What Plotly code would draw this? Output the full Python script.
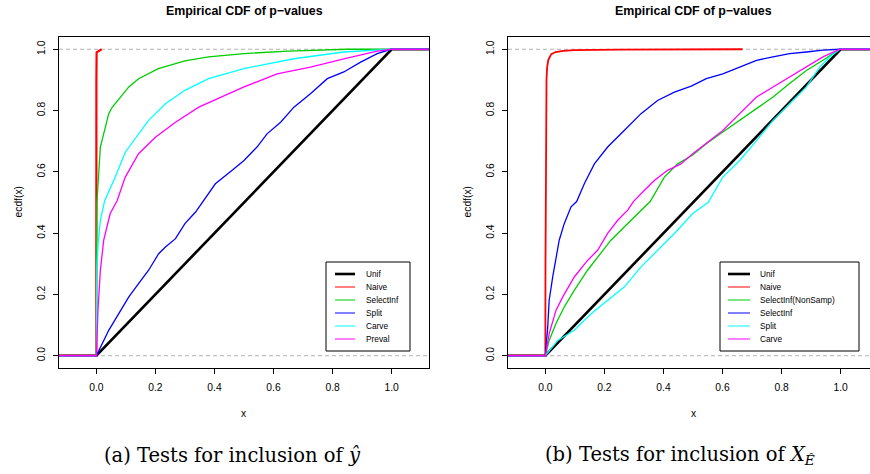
import plotly.graph_objects as go

W, H = 870, 474

# ---------------- data: panel (a) ----------------
a_unif_x = [0.0, 1.0]
a_unif_y = [0.0, 1.0]
a_naive_x = [0.0, 0.0002, 0.001, 0.018]
a_naive_y = [0.0, 0.9, 0.99, 1.0]
a_selinf_x = [0.0, 0.0005, 0.002, 0.0135, 0.042, 0.053, 0.11, 0.143, 0.21, 0.30, 0.38, 0.5, 0.65, 0.85]
a_selinf_y = [0.0, 0.3, 0.5, 0.68, 0.79, 0.81, 0.877, 0.904, 0.937, 0.962, 0.975, 0.986, 0.994, 1.0]
a_split_x = [0.0, 0.042, 0.076, 0.11, 0.143, 0.177, 0.211, 0.234, 0.268, 0.30, 0.336, 0.362, 0.403,
             0.46, 0.5, 0.544, 0.578, 0.624, 0.669, 0.725, 0.782, 0.838, 0.895, 0.951, 0.997]
a_split_y = [0.0, 0.083, 0.137, 0.192, 0.235, 0.279, 0.333, 0.355, 0.382, 0.431, 0.469, 0.505, 0.561,
             0.605, 0.637, 0.681, 0.724, 0.762, 0.811, 0.855, 0.904, 0.926, 0.958, 0.986, 1.0]
a_carve_x = [0.0, 0.001, 0.002, 0.006, 0.0136, 0.028, 0.064, 0.098, 0.143, 0.177, 0.234, 0.30, 0.38,
             0.5, 0.669, 0.838, 0.974, 1.0]
a_carve_y = [0.0, 0.2, 0.29, 0.366, 0.442, 0.505, 0.583, 0.664, 0.724, 0.768, 0.822, 0.866, 0.904,
             0.937, 0.969, 0.991, 0.999, 1.0]
a_preval_x = [0.0, 0.002, 0.0055, 0.0136, 0.025, 0.047, 0.07, 0.098, 0.143, 0.2, 0.268, 0.347, 0.426,
              0.5, 0.612, 0.725, 0.838, 0.951, 1.0]
a_preval_y = [0.0, 0.05, 0.148, 0.279, 0.377, 0.464, 0.505, 0.583, 0.659, 0.713, 0.762, 0.811, 0.844,
              0.877, 0.92, 0.942, 0.969, 0.994, 1.0]

# ---------------- data: panel (b) ----------------
b_unif_x = [0.0, 1.0]
b_unif_y = [0.0, 1.0]
b_naive_x = [0.0, 0.0005, 0.002, 0.004, 0.006, 0.01, 0.02, 0.035, 0.06, 0.1, 0.25, 0.668]
b_naive_y = [0.0, 0.3, 0.7, 0.9, 0.94, 0.965, 0.984, 0.991, 0.995, 0.997, 0.999, 1.0]
b_nonsamp_x = [0.0, 0.013, 0.036, 0.064, 0.098, 0.143, 0.177, 0.222, 0.267, 0.301, 0.355, 0.403, 0.448,
               0.499, 0.545, 0.601, 0.658, 0.715, 0.771, 0.827, 0.884, 0.94, 0.997]
b_nonsamp_y = [0.0, 0.05, 0.105, 0.159, 0.213, 0.279, 0.322, 0.377, 0.42, 0.453, 0.503, 0.583, 0.626,
               0.655, 0.692, 0.73, 0.768, 0.806, 0.844, 0.888, 0.931, 0.964, 1.0]
b_selinf_x = [0.0, 0.008, 0.013, 0.025, 0.036, 0.047, 0.064, 0.087, 0.106, 0.132, 0.166, 0.211, 0.267,
              0.324, 0.38, 0.437, 0.494, 0.545, 0.601, 0.658, 0.715, 0.771, 0.827, 0.884, 0.94, 0.997]
b_selinf_y = [0.0, 0.093, 0.181, 0.257, 0.322, 0.377, 0.431, 0.486, 0.503, 0.561, 0.626, 0.681, 0.735,
              0.79, 0.833, 0.86, 0.88, 0.904, 0.92, 0.942, 0.964, 0.975, 0.986, 0.991, 0.997, 1.0]
b_split_x = [0.0, 0.042, 0.098, 0.155, 0.211, 0.267, 0.324, 0.38, 0.437, 0.499, 0.551, 0.601, 0.658,
             0.715, 0.771, 0.827, 0.884, 0.929, 0.963, 0.997]
b_split_y = [0.0, 0.05, 0.083, 0.137, 0.181, 0.224, 0.29, 0.344, 0.399, 0.464, 0.50, 0.583, 0.637,
             0.702, 0.768, 0.822, 0.877, 0.942, 0.975, 1.0]
b_carve_x = [0.0, 0.013, 0.036, 0.059, 0.098, 0.143, 0.177, 0.211, 0.245, 0.279, 0.298, 0.335, 0.369,
             0.414, 0.459, 0.499, 0.545, 0.601, 0.658, 0.715, 0.771, 0.827, 0.884, 0.94, 0.997]
b_carve_y = [0.0, 0.072, 0.148, 0.192, 0.257, 0.311, 0.344, 0.399, 0.442, 0.475, 0.503, 0.539, 0.572,
             0.605, 0.626, 0.659, 0.692, 0.735, 0.79, 0.844, 0.877, 0.909, 0.942, 0.975, 1.0]

a_names = ["Unif", "Naive", "SelectInf", "Split", "Carve", "Preval"]
b_names = ["Unif", "Naive", "SelectInf(NonSamp)", "SelectInf", "Split", "Carve"]
colors = ["#000000", "#FF0000", "#00CD00", "#0000FF", "#00FFFF", "#FF00FF"]

tick_vals = [0.0, 0.2, 0.4, 0.6, 0.8, 1.0]
tick_text = ["0.0", "0.2", "0.4", "0.6", "0.8", "1.0"]

title_text = "Empirical CDF of p\u2212values"
cap_a = "(a) Tests for inclusion of <i>\u0177</i>"
cap_b = "(b) Tests for inclusion of <i>X</i><sub><i>\u00ca</i></sub>"

# ---------------- layout geometry (pixels) ----------------
AX_L, AX_R = 59, 429          # panel (a) plot box
BX_L, BX_R = 508, 870         # panel (b) plot box (clipped at image edge)
PY_T, PY_B = 37, 368
XMIN, XMAX = -0.1264, 1.1264
YMIN, YMAX = -0.04, 1.04
px_per_unit = (AX_R - AX_L) / (XMAX - XMIN)
BXMAX = XMIN + (BX_R - BX_L) / px_per_unit

FONT = "Liberation Sans"
SERIF = "DejaVu Serif"

def px(x):
    return x / W

def py(y):
    return 1 - y / H

fig = go.Figure()

a_series = [(a_unif_x, a_unif_y), (a_naive_x, a_naive_y), (a_selinf_x, a_selinf_y),
            (a_split_x, a_split_y), (a_carve_x, a_carve_y), (a_preval_x, a_preval_y)]
b_series = [(b_unif_x, b_unif_y), (b_naive_x, b_naive_y), (b_nonsamp_x, b_nonsamp_y),
            (b_selinf_x, b_selinf_y), (b_split_x, b_split_y), (b_carve_x, b_carve_y)]

def add_panel(series, names, xa, ya, red_w):
    for i, ((xs, ys), nm) in enumerate(zip(series, names)):
        X = [XMIN - 0.5] + list(xs)
        Y = [0.0] + list(ys)
        if nm != "Naive":
            X = X + [XMAX + 0.5]
            Y = Y + [1.0]
        w = 2.6 if nm == "Unif" else (red_w if nm == "Naive" else 1.3)
        fig.add_trace(go.Scatter(x=X, y=Y, mode="lines", name=nm, xaxis=xa, yaxis=ya,
                                 line=dict(color=colors[i], width=w), showlegend=False,
                                 hoverinfo="skip"))

add_panel(a_series, a_names, "x", "y", 2.2)
add_panel(b_series, b_names, "x2", "y2", 1.8)

axis_common = dict(showgrid=False, zeroline=False, showline=True, linecolor="#000000", linewidth=1,
                   ticks="outside", ticklen=5, tickcolor="#000000", tickwidth=1, automargin=False,
                   tickfont=dict(family=FONT, size=10.3, color="#000000"))

fig.update_layout(
    template="none",
    width=W, height=H, margin=dict(l=0, r=0, t=0, b=0, pad=0), autosize=False,
    paper_bgcolor="white", plot_bgcolor="white", showlegend=False,
    xaxis=dict(domain=[px(AX_L), px(AX_R)], range=[XMIN, XMAX], anchor="y", mirror=True,
               tickvals=tick_vals, ticktext=tick_text, ticklabelstandoff=5, **axis_common),
    yaxis=dict(domain=[py(PY_B), py(PY_T)], range=[YMIN, YMAX], anchor="x", mirror=True,
               tickvals=tick_vals, ticktext=tick_text, tickangle=-90, ticklabelstandoff=4, **axis_common),
    xaxis2=dict(domain=[px(BX_L), 1.0], range=[XMIN, BXMAX], anchor="y2", mirror=True,
                tickvals=tick_vals, ticktext=tick_text, ticklabelstandoff=5, **axis_common),
    yaxis2=dict(domain=[py(PY_B), py(PY_T)], range=[YMIN, YMAX], anchor="x2", mirror=False,
                tickvals=tick_vals, ticktext=tick_text, tickangle=-90, ticklabelstandoff=4, **axis_common),
)

shapes = []
annotations = []

# dashed reference lines at 0 and 1
for xr, yr in [("x domain", "y"), ("x2 domain", "y2")]:
    for yv in [0.0, 1.0]:
        shapes.append(dict(type="line", xref=xr, yref=yr, x0=0, x1=1, y0=yv, y1=yv, layer="below",
                           line=dict(color="#b3b3b3", width=1, dash="4px,3px")))

# titles, axis titles, captions
for cx in [(AX_L + AX_R) / 2, (BX_L + 879) / 2]:
    annotations.append(dict(text="<b>" + title_text + "</b>", x=px(cx), y=py(11), xref="paper", yref="paper",
                            showarrow=False, xanchor="center", yanchor="middle",
                            font=dict(family=FONT, size=12.4, color="#000000")))
    annotations.append(dict(text="x", x=px(cx), y=py(413), xref="paper", yref="paper", showarrow=False,
                            xanchor="center", yanchor="middle", font=dict(family=FONT, size=10.3, color="#000000")))
for lx in [AX_L - 41, BX_L - 41]:
    annotations.append(dict(text="ecdf(x)", x=px(lx), y=py((PY_T + PY_B) / 2), xref="paper", yref="paper",
                            showarrow=False, textangle=-90, xanchor="center", yanchor="middle",
                            font=dict(family=FONT, size=10.3, color="#000000")))
annotations.append(dict(text=cap_a, x=px(232), y=py(455), xref="paper", yref="paper", showarrow=False,
                        xanchor="center", yanchor="middle",
                        font=dict(family=SERIF, size=19.5, color="#000000")))
annotations.append(dict(text=cap_b, x=px(680), y=py(455), xref="paper", yref="paper", showarrow=False,
                        xanchor="center", yanchor="middle",
                        font=dict(family=SERIF, size=19.5, color="#000000")))

# legends (boxes drawn like R's legend())
def add_legend(names, box, line_x, text_x):
    x0, y0, x1, y1 = box
    shapes.append(dict(type="rect", xref="paper", yref="paper", x0=px(x0), x1=px(x1), y0=py(y1), y1=py(y0),
                       line=dict(color="#000000", width=1), fillcolor="white", layer="above"))
    row0, step = 274, 13
    for i, nm in enumerate(names):
        ry = row0 + i * step
        shapes.append(dict(type="line", xref="paper", yref="paper", x0=px(line_x[0]), x1=px(line_x[1]),
                           y0=py(ry), y1=py(ry), layer="above",
                           line=dict(color=colors[i], width=2.6 if i == 0 else 1)))
        annotations.append(dict(text=nm, x=px(text_x), y=py(ry), xref="paper", yref="paper", showarrow=False,
                                xanchor="left", yanchor="middle",
                                font=dict(family=FONT, size=8.3, color="#000000")))

add_legend(a_names, (326, 262, 410, 351), (335, 355), 364)
add_legend(b_names, (720, 262, 859, 351), (728, 750), 758)

fig.update_layout(shapes=shapes, annotations=annotations)
fig.write_html("out.html", config={"displayModeBar": False},
               post_script="document.body.style.margin='0px';document.body.style.overflow='hidden';")
